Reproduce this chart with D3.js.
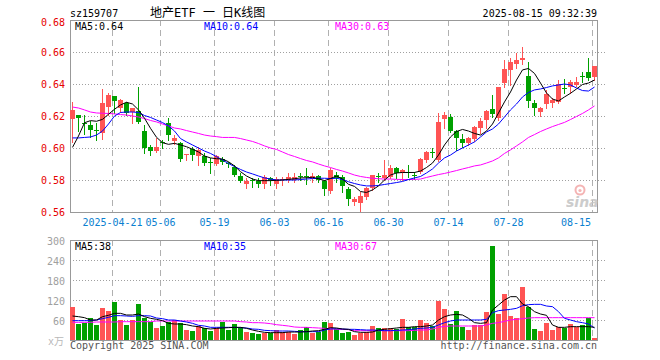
<!DOCTYPE html>
<html><head><meta charset="utf-8">
<script src="https://cdn.jsdelivr.net/npm/d3@7"></script>
<style>
html,body{margin:0;padding:0;background:#fff;}
svg{display:block;}
text{font-family:"DejaVu Sans Mono","Liberation Mono","Noto Sans CJK SC",monospace;}
</style></head><body>
<svg id="c" width="660" height="360"></svg>
<script>
const dates = ["2025-04-10","2025-04-11","2025-04-14","2025-04-15","2025-04-16","2025-04-17","2025-04-18","2025-04-21","2025-04-22","2025-04-23","2025-04-24","2025-04-25","2025-04-28","2025-04-29","2025-04-30",
"2025-05-06","2025-05-07","2025-05-08","2025-05-09","2025-05-12","2025-05-13","2025-05-14","2025-05-15","2025-05-16","2025-05-19","2025-05-20","2025-05-21","2025-05-22","2025-05-23","2025-05-26","2025-05-27","2025-05-28","2025-05-29","2025-05-30",
"2025-06-03","2025-06-04","2025-06-05","2025-06-06","2025-06-09","2025-06-10","2025-06-11","2025-06-12","2025-06-13","2025-06-16","2025-06-17","2025-06-18","2025-06-19","2025-06-20","2025-06-23","2025-06-24","2025-06-25","2025-06-26","2025-06-27","2025-06-30",
"2025-07-01","2025-07-02","2025-07-03","2025-07-04","2025-07-07","2025-07-08","2025-07-09","2025-07-10","2025-07-11","2025-07-14","2025-07-15","2025-07-16","2025-07-17","2025-07-18","2025-07-21","2025-07-22","2025-07-23","2025-07-24","2025-07-25","2025-07-28","2025-07-29","2025-07-30","2025-07-31",
"2025-08-01","2025-08-04","2025-08-05","2025-08-06","2025-08-07","2025-08-08","2025-08-11","2025-08-12","2025-08-13","2025-08-14","2025-08-15"];

const open = [.618,.6206,.6158,.6144,.6115,.6092,.6254,.6325,.6248,.6279,.6227,.6231,.6108,.6008,.5983,.6035,.6158,.6046,.6033,.5958,.5994,.595,.595,.5915,.5898,.5929,.5906,.588,.5825,.5775,.5798,.5796,.5775,.5815,.5775,.5804,.58,.58,.5828,.5823,.5804,.5827,.5794,.5731,
.5831,.5821,.5744,.5661,.5654,.5696,.5748,.5823,.5811,.5821,.5877,.5846,.5847,.5833,.5852,.5925,.5975,.5925,.6181,.6196,.6108,.6056,.6029,.6056,.6123,.6175,.6244,.6186,.6404,.6488,.6525,.655,.645,.6283,.6227,.6275,.6283,.6288,.6375,.638,.6394,.6447,.6475,.6446];
const high = [.629,.6206,.6206,.6171,.6154,.6367,.6342,.6325,.6306,.629,.6248,.6379,.6144,.6019,.606,.605,.6186,.6081,.6035,.5962,.6008,.6008,.5971,.5935,.5956,.5942,.5915,.5894,.5842,.581,.581,.581,.5831,.5821,.5821,.5821,.5842,.5842,.5842,.5873,.5846,.5831,.58,.5877,
.5852,.5831,.5758,.5696,.5727,.5758,.5831,.5846,.5925,.5894,.5883,.5867,.5894,.5852,.5935,.5983,.5998,.6217,.6227,.6213,.6113,.6088,.6071,.6135,.6186,.6238,.6331,.6383,.655,.656,.6592,.6633,.654,.63,.6258,.636,.6313,.6425,.6429,.6425,.6444,.6477,.656,.6513];
const low = [.604,.6108,.609,.6067,.605,.6056,.6206,.6217,.6227,.6208,.6154,.6154,.5971,.5956,.5977,.6002,.605,.6025,.5919,.5925,.5925,.5894,.5894,.5846,.5894,.59,.5883,.5825,.579,.5748,.5758,.5758,.5748,.5769,.5748,.5769,.579,.579,.58,.5775,.579,.579,.5706,.5717,
.579,.5727,.5644,.5644,.5608,.5679,.5738,.579,.58,.5811,.5811,.58,.5817,.5804,.5842,.5915,.5942,.5919,.6123,.6098,.5988,.6008,.6019,.6044,.6092,.6123,.6196,.6175,.6383,.6394,.6498,.6525,.6258,.6206,.62,.625,.6258,.6281,.6342,.6342,.6385,.6413,.6425,.6425];
const close = [.624,.6186,.6155,.6113,.6112,.6283,.6331,.6296,.63,.6217,.6248,.6165,.5998,.5983,.6008,.6031,.6081,.606,.5931,.5962,.5958,.5988,.5904,.5904,.595,.5915,.5904,.5831,.5796,.5794,.5796,.5775,.5821,.58,.5804,.5806,.5821,.582,.5826,.582,.5825,.58,.5744,.5863,
.5811,.5765,.5681,.5681,.5702,.5752,.5831,.582,.5831,.5877,.5846,.5862,.5845,.583,.5931,.5977,.5972,.6164,.6206,.6108,.6064,.6033,.6064,.6129,.6169,.6233,.6213,.6383,.6492,.654,.655,.656,.6296,.6248,.6248,.6335,.63,.64,.6372,.6415,.6415,.6444,.6435,.6513];

const volume = [98,48,50,65,45,96,87,114,60,45,60,108,65,55,36,42,55,60,50,30,27,42,35,27,35,55,30,48,38,25,20,18,22,20,30,25,25,18,30,38,22,25,55,51,
32,22,25,15,22,25,42,35,35,35,32,63,40,38,60,52,42,118,93,48,87,40,30,45,45,84,282,78,138,73,66,159,99,33,27,52,30,38,35,48,38,45,67,6];

const ma5 = [.6004,.6075,.6158,.6171,.6167,.6179,.6211,.6242,.6269,.6286,.6275,.6238,.6186,.6123,.6067,.6033,.6023,.6029,.6019,.6008,.5992,.5975,.595,.5938,.5933,.5931,.5914,.5888,.5852,.5825,.5806,.5796,.5796,.5796,.5798,.58,.5804,.5808,.5813,.5814,.5817,.5808,.5796,.5809,
.5825,.5806,.5773,.576,.5728,.5722,.5738,.5763,.58,.5831,.5844,.5847,.5847,.5847,.5856,.5878,.5906,.5956,.6019,.6069,.6103,.6116,.6106,.6091,.6081,.6106,.615,.6219,.6288,.635,.6425,.6488,.6497,.6466,.6406,.6344,.6306,.6294,.6319,.6342,.6369,.6397,.6406,.6425];
const ma10 = [.6063,.6063,.6066,.6069,.6081,.6106,.615,.62,.6222,.6225,.6225,.6222,.6203,.6191,.6175,.6159,.6138,.6106,.6059,.6038,.6019,.6,.5981,.5966,.5946,.5925,.5903,.5884,.5866,.585,.5838,.5825,.5813,.5806,.58,.58,.58,.58,.5803,.5806,.5809,.5811,.5811,.5809,
.5811,.5803,.5789,.5778,.5769,.5763,.5763,.5766,.5772,.5778,.5784,.5791,.5803,.5813,.5822,.5844,.5869,.5906,.5938,.5956,.5981,.6,.6019,.6038,.6069,.61,.6119,.615,.6194,.6238,.6275,.6319,.6347,.6363,.6369,.6378,.6388,.6394,.64,.6394,.6375,.6359,.6356,.6381];
const ma30 = [.6256,.625,.6238,.6225,.6219,.6217,.6216,.6213,.6209,.6206,.62,.6194,.6184,.6172,.6163,.615,.6138,.6125,.6119,.6109,.61,.6091,.6081,.6075,.6071,.6066,.6066,.6066,.6059,.605,.6041,.6028,.6013,.6,.5991,.5975,.5959,.5947,.5934,.5922,.5913,.59,.5888,.5878,
.5866,.5856,.5844,.5831,.5822,.5816,.5811,.5808,.5806,.5806,.5804,.5803,.5803,.5804,.5806,.5816,.5825,.5834,.5841,.585,.5859,.5869,.5878,.5888,.5894,.5906,.5919,.5938,.5966,.5988,.6013,.6038,.6066,.6084,.6103,.6119,.6134,.6147,.616,.6178,.6197,.6216,.6238,.6263];

const vma5 = [72,70,67,60,60,70,74,80,80,75,75,78,70,65,62,58,50,48,48,46,42,40,35,33,35,36,37,38,38,35,30,26,23,22,22,22,24,24,24,25,27,28,32,37,
36,33,32,25,23,23,24,30,32,34,36,38,38,40,40,42,45,60,70,75,77,75,65,52,50,52,90,105,120,130,130,108,100,85,78,74,45,38,38,40,40,40,40,38];
const vma10 = [58,58,58,58,60,64,68,73,73,72,71,73,73,72,66,64,60,60,57,54,50,44,42,38,38,38,38,38,37,36,33,32,29,28,27,27,27,26,25,25,25,25,30,33,
34,33,32,32,31,30,30,29,28,28,29,30,31,33,35,36,38,45,52,57,60,60,60,60,60,62,82,88,90,92,95,103,106,107,107,102,100,85,65,60,55,52,48,36];
const vma30 = [53,53,53,53,54,54,54,54,55,55,55,55,55,55,57,57,57,57,57,57,57,57,57,57,57,57,57,57,55,54,52,52,51,49,46,44,42,39,38,38,37,36,35,34,
32,32,31,28,28,28,28,28,28,28,28,28,28,29,30,30,33,38,41,42,42,42,42,42,42,45,50,52,56,60,62,64,66,67,67,67,67,67,67,67,67,67,67,67];

const tickDates = ["2025-04-21","2025-05-06","2025-05-19","2025-06-03","2025-06-16","2025-06-30","2025-07-14","2025-07-28","2025-08-15"];
const tickLabels = ["2025-04-21","05-06","05-19","06-03","06-16","06-30","07-14","07-28","08-15"];
const priceTicks = [0.56,0.58,0.60,0.62,0.64,0.66,0.68];
const volTicks = [60,120,180,240,300];
const priceLegend = ["MA5:0.64","MA10:0.64","MA30:0.63"];
const volLegend = ["MA5:38","MA10:35","MA30:67"];
const title = "地产ETF 一 日K线图";
const code = "sz159707";
const stamp = "2025-08-15 09:32:39";

const RED = "#ff5454", GREEN = "#00a000";
const maColors = ["#000000", "#0000ff", "#ff00ff"];

const svg = d3.select("#c");
const L = 70, R = 597;
const PT = 20, PB = 212, VT = 240, VB = 340;

const x = d3.scaleBand().domain(dates).range([69.5, 597.5]).paddingInner(1/6).paddingOuter(1/12);
const bw = x.bandwidth();
const cx = d => x(d) + bw / 2;
const yP = d3.scaleLinear().domain([0.56, 0.68]).range([PB, PT]);
const yV = d3.scaleLinear().domain([0, 300]).range([VB, VT]);

const rows = dates.map((d, i) => ({d, o: open[i], h: high[i], l: low[i], c: close[i], v: volume[i], up: close[i] >= open[i]}));

// grids
const g = svg.append("g");
function vgrid(top, bot) {
  g.selectAll(null).data(tickDates).enter().append("line")
    .attr("x1", d => x(d) + 0.5).attr("x2", d => x(d) + 0.5)
    .attr("y1", top).attr("y2", bot)
    .attr("stroke", "#b0b0b0").attr("stroke-dasharray", "6,4");
}
vgrid(PT, PB); vgrid(VT, VB);
g.selectAll(null).data(priceTicks.slice(1, -1)).enter().append("line")
  .attr("x1", L).attr("x2", R + 8).attr("y1", d => Math.round(yP(d)) + 0.5).attr("y2", d => Math.round(yP(d)) + 0.5)
  .attr("stroke", "#a0a0a0").attr("stroke-dasharray", "1,2");
g.selectAll(null).data(volTicks.slice(0, -1)).enter().append("line")
  .attr("x1", L).attr("x2", R + 8).attr("y1", d => Math.round(yV(d)) + 0.5).attr("y2", d => Math.round(yV(d)) + 0.5)
  .attr("stroke", "#a0a0a0").attr("stroke-dasharray", "1,2");

// frames
svg.append("rect").attr("x", L + 0.5).attr("y", PT + 0.5).attr("width", R - L).attr("height", PB - PT)
  .attr("fill", "none").attr("stroke", "#999");
svg.append("rect").attr("x", L + 0.5).attr("y", VT + 0.5).attr("width", R - L).attr("height", VB - VT)
  .attr("fill", "none").attr("stroke", "#999");

// sina logo watermark
const logo = svg.append("g").attr("opacity", 0.85);
logo.append("circle").attr("cx", 580).attr("cy", 190).attr("r", 4.5).attr("fill", "none").attr("stroke", "#f3a8a8").attr("stroke-width", 2);
logo.append("circle").attr("cx", 580).attr("cy", 190.5).attr("r", 1.6).attr("fill", "#f3a8a8");
logo.append("text").attr("x", 566).attr("y", 207).text("sina")
  .style("font-family", "DejaVu Sans").style("font-weight", "bold").style("font-style", "italic")
  .style("font-size", "14px").attr("fill", "#c4c4c4");

// candles
const cg = svg.append("g");
cg.selectAll(null).data(rows).enter().append("line")
  .attr("x1", d => cx(d.d)).attr("x2", d => cx(d.d))
  .attr("y1", d => Math.round(yP(d.h))).attr("y2", d => Math.round(yP(d.l)) + 1)
  .attr("stroke", d => d.up ? RED : GREEN).attr("stroke-width", 1);
cg.selectAll(null).data(rows).enter().append("rect")
  .attr("x", d => x(d.d)).attr("width", bw)
  .attr("y", d => Math.round(yP(Math.max(d.o, d.c))))
  .attr("height", d => Math.max(1, Math.round(yP(Math.min(d.o, d.c))) - Math.round(yP(Math.max(d.o, d.c)))))
  .attr("fill", d => d.up ? RED : GREEN);

// volume bars
svg.append("g").selectAll(null).data(rows).enter().append("rect")
  .attr("x", d => x(d.d)).attr("width", bw)
  .attr("y", d => Math.round(yV(d.v))).attr("height", d => VB - Math.round(yV(d.v)))
  .attr("fill", d => d.up ? RED : GREEN);

// MA lines
function drawLine(vals, yScale, color) {
  const line = d3.line().x((v, i) => cx(dates[i])).y(v => yScale(v));
  svg.append("path").datum(vals).attr("d", line).attr("fill", "none").attr("stroke", color).attr("stroke-width", 1);
}
[ma30, ma10, ma5].forEach((s, k) => drawLine(s, yP, maColors[2 - k]));
[vma30, vma10, vma5].forEach((s, k) => drawLine(s, yV, maColors[2 - k]));

// axes labels
const fs = "10px";
svg.append("g").selectAll(null).data(priceTicks).enter().append("text")
  .attr("x", 65).attr("y", d => Math.max(yP(d), 22)).attr("dy", "0.35em")
  .attr("text-anchor", "end").attr("fill", "#e60000").style("font-size", fs)
  .text(d => d.toFixed(2));
svg.append("g").selectAll(null).data(volTicks).enter().append("text")
  .attr("x", 65).attr("y", d => yV(d) + 1).attr("dy", "0.35em")
  .attr("text-anchor", "end").attr("fill", "#a0a0a0").style("font-size", fs)
  .text(d => d);
svg.append("text").attr("x", 64).attr("y", 345).attr("text-anchor", "end")
  .attr("fill", "#b8b8b8").style("font-size", fs).text("x万");

svg.append("g").selectAll(null).data(tickDates).enter().append("text")
  .attr("x", (d, i) => i === tickDates.length - 1 ? x(d) - 1 : x(d) + 0.5)
  .attr("y", 226)
  .attr("text-anchor", (d, i) => i === tickDates.length - 1 ? "end" : "middle")
  .attr("fill", "#0a80d0").style("font-size", fs)
  .text((d, i) => tickLabels[i]);

// legends
const legX = [75, 204, 335];
svg.append("g").selectAll(null).data(priceLegend).enter().append("text")
  .attr("x", (d, i) => legX[i]).attr("y", 29.5).attr("fill", (d, i) => maColors[i]).style("font-size", fs).text(d => d);
svg.append("g").selectAll(null).data(volLegend).enter().append("text")
  .attr("x", (d, i) => legX[i]).attr("y", 249.5).attr("fill", (d, i) => maColors[i]).style("font-size", fs).text(d => d);

// header
svg.append("text").attr("x", 70).attr("y", 16.5).attr("fill", "#000").style("font-size", fs).text(code);
svg.append("text").attr("x", 150).attr("y", 16.5).attr("fill", "#000").style("font-size", "12px").text(title);
svg.append("text").attr("x", 597).attr("y", 16.5).attr("text-anchor", "end").attr("fill", "#000").style("font-size", fs).text(stamp);

// footer
svg.append("text").attr("x", 70).attr("y", 348.5).attr("fill", "#555").style("font-size", fs).text("Copyright 2025 SINA.COM");
svg.append("text").attr("x", 597).attr("y", 348.5).attr("text-anchor", "end").attr("fill", "#555").style("font-size", fs).text("http://finance.sina.com.cn");
</script>
</body></html>
